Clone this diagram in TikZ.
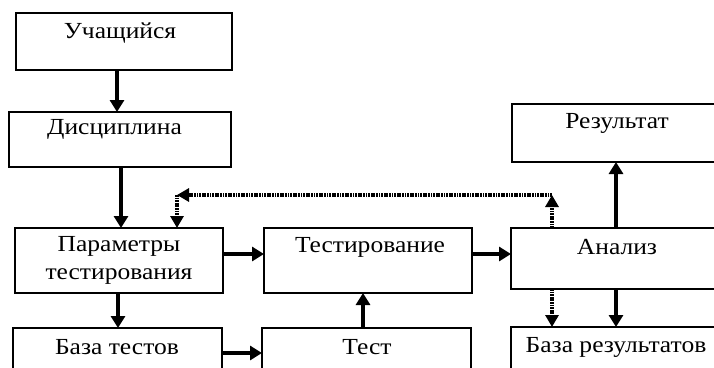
\documentclass[tikz,border=0pt]{standalone}
\usepackage{fontspec}
\setmainfont{Liberation Serif}[FakeStretch=1.11]
\usetikzlibrary{arrows.meta}
\begin{document}
\begin{tikzpicture}[x=1pt,y=-1pt,
  box/.style={draw, line width=2pt, inner sep=0pt, outer sep=0pt},
  lbl/.style={inner sep=0pt, font=\fontsize{23}{28}\selectfont, align=center},
  arr/.style={line width=3.2pt, -{Triangle[length=12pt,width=14pt]}},
  darr/.style={line width=3.2pt, dash pattern=on 1.8pt off 0.8pt, -{Triangle[length=12pt,width=13pt]}}]
\useasboundingbox (0,0) rectangle (714,367);
\clip (0,0) rectangle (714,367);
% boxes
\node[box, minimum width=216pt, minimum height=57pt] (A) at (124,41.5) {};
\node[box, minimum width=222pt, minimum height=55pt] (B) at (120,139.5) {};
\node[box, minimum width=208pt, minimum height=65pt] (C) at (119,260.5) {};
\node[box, minimum width=209pt, minimum height=60pt] (D) at (117.5,358) {};
\node[box, minimum width=208pt, minimum height=65pt] (E) at (368,260.5) {};
\node[box, minimum width=209pt, minimum height=60pt] (F) at (366.5,358) {};
\node[box, minimum width=240pt, minimum height=61pt] (G) at (631,258.5) {};
\node[box, minimum width=240pt, minimum height=58pt] (H) at (632,133) {};
\node[box, minimum width=240pt, minimum height=60pt] (I) at (631,357) {};
% labels
\node[lbl] (tA) at (120,33) {Учащийся};
\node[lbl] (tB) at (114.5,129) {Дисциплина};
\node[lbl] (tC) at (119,260) {Параметры\\тестирования};
\node[lbl] (tD) at (117,347) {База тестов};
\node[lbl] (tE) at (370,247) {Тестирование};
\node[lbl] (tF) at (367,347) {Тест};
\node[lbl] (tG) at (617,247) {Анализ};
\node[lbl] (tH) at (617,123) {Результат};
\node[lbl] (tI) at (616,347) {База результатов};
% x / y guides
\coordinate (x117) at (117,0);
\coordinate (x121) at (121,0);
\coordinate (x118) at (118,0);
\coordinate (x363) at (363,0);
\coordinate (x616) at (616,0);
\coordinate (x552) at (552,0);
\coordinate (x177) at (177,0);
\coordinate (y254) at (0,254);
\coordinate (y353) at (0,353);
\coordinate (cr) at (552,195);
\coordinate (cl) at (177,195);
% solid arrows
\draw[arr] (A.south -| x117) -- (B.north -| x117);
\draw[arr] (B.south -| x121) -- (C.north -| x121);
\draw[arr] (C.south -| x118) -- (D.north -| x118);
\draw[arr] (C.east |- y254) -- (E.west |- y254);
\draw[arr] (D.east |- y353) -- (F.west |- y353);
\draw[arr] (F.north -| x363) -- (E.south -| x363);
\draw[arr] (E.east |- y254) -- (G.west |- y254);
\draw[arr] (G.north -| x616) -- (H.south -| x616);
\draw[arr] (G.south -| x616) -- (I.north -| x616);
% dotted arrows
\draw[darr] (G.south -| x552) -- (I.north -| x552);
\draw[darr] (G.north -| x552) -- (cr);
\draw[darr] (cr) -- (cl);
\draw[darr] (cl) -- (C.north -| x177);
\end{tikzpicture}
\end{document}
